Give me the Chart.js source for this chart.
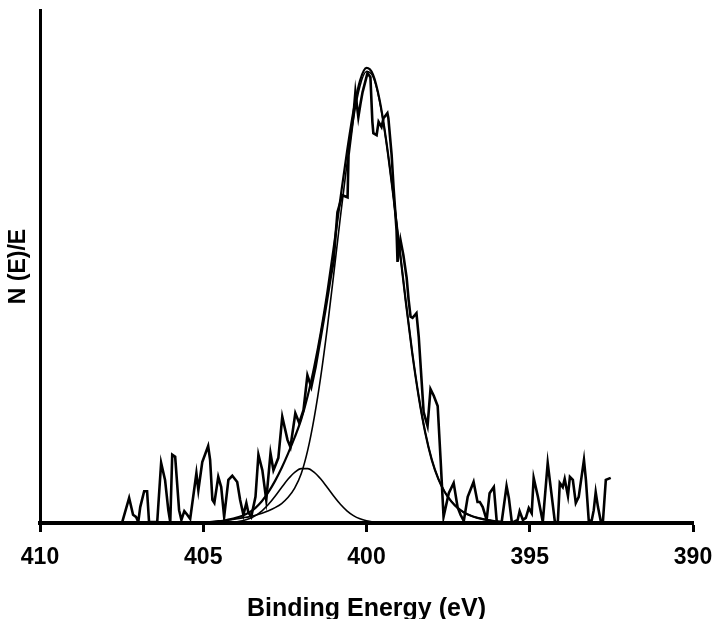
<!DOCTYPE html>
<html>
<head>
<meta charset="utf-8">
<script src="https://cdn.jsdelivr.net/npm/chart.js@4.4.0/dist/chart.umd.min.js"></script>
<style>
  html, body { margin: 0; padding: 0; background: #fff; }
  #wrap { width: 713px; height: 619px; position: relative; }
</style>
</head>
<body>
<div id="wrap"><canvas id="xps"></canvas></div>
<script>
// measured spectrum (binding energy in eV, intensity in arbitrary units)
const noiseEnergy = [
  407.48, 407.27, 407.15, 407.06, 406.99, 406.93, 406.81, 406.72, 406.66, 406.41,
  406.29, 406.17, 406.07, 406.01, 405.95, 405.86, 405.74, 405.67, 405.58, 405.49,
  405.40, 405.21, 405.15, 405.03, 404.85, 404.79, 404.72, 404.66, 404.54, 404.45,
  404.36, 404.23, 404.11, 403.96, 403.87, 403.77, 403.68, 403.62, 403.53, 403.40,
  403.31, 403.19, 403.07, 402.94, 402.85, 402.70, 402.58, 402.42, 402.33, 402.18,
  402.06, 401.93, 401.81, 401.69, 401.56, 401.35, 401.26, 401.10, 401.01, 400.89,
  400.74, 400.58, 400.55, 400.40, 400.34, 400.25, 400.18, 400.12, 399.97, 399.88,
  399.82, 399.79, 399.69, 399.63, 399.54, 399.48, 399.36, 399.33, 399.23, 399.17,
  399.08, 399.05, 398.96, 398.87, 398.77, 398.71, 398.65, 398.59, 398.47, 398.40,
  398.25, 398.13, 398.04, 397.94, 397.82, 397.73, 397.64, 397.48, 397.33, 397.21,
  397.12, 397.02, 396.90, 396.72, 396.60, 396.53, 396.44, 396.32, 396.23, 396.10,
  396.01, 395.86, 395.71, 395.64, 395.55, 395.49, 395.37, 395.31, 395.21, 395.12,
  395.03, 394.94, 394.88, 394.75, 394.60, 394.45, 394.36, 394.23, 394.14, 394.08,
  393.99, 393.93, 393.83, 393.77, 393.68, 393.59, 393.50, 393.34, 393.28, 393.19,
  393.10, 393.04, 392.98, 392.91, 392.82, 392.76, 392.67, 392.52
];
const noiseCounts = [
  0.2, 4.9, 1.6, 1.2, 0.2, 3.1, 6.2, 6.2, 0.2, 0.2,
  11.7, 8.4, 2.5, 0.2, 13.3, 12.9, 2.5, 0.6, 2.3, 1.6,
  0.8, 9.7, 6.4, 11.9, 15.0, 12.3, 4.5, 3.9, 9.0, 7.0,
  1.2, 8.4, 9.2, 8.0, 4.5, 1.6, 3.9, 2.1, 1.2, 5.1,
  13.3, 10.3, 4.5, 13.6, 10.3, 12.7, 20.7, 16.2, 14.8, 21.4,
  19.5, 22.0, 28.8, 26.5, 30.4, 38.2, 41.5, 47.8, 50.9, 60.6,
  63.9, 63.5, 71.7, 79.5, 84.0, 79.1, 81.9, 84.0, 87.7, 86.9,
  78.2, 76.0, 75.6, 78.2, 77.2, 78.9, 79.9, 78.9, 71.7, 65.3,
  57.1, 50.9, 55.2, 52.2, 47.8, 43.5, 40.2, 40.0, 40.9, 36.3,
  21.6, 18.9, 26.1, 24.8, 22.8, 12.3, 1.2, 5.8, 7.8, 3.1,
  1.6, 0.4, 5.1, 8.0, 4.1, 4.1, 3.1, 0.6, 5.8, 7.0,
  0.2, 0.2, 7.2, 4.9, 0.2, 0.2, 0.6, 2.3, 0.6, 1.0,
  2.9, 1.9, 8.8, 5.1, 0.2, 11.7, 7.0, 0.2, 0.2, 7.8,
  7.0, 8.6, 5.3, 9.0, 8.4, 3.9, 5.1, 12.3, 8.4, 0.2,
  0.6, 2.5, 6.0, 3.1, 0.2, 0.2, 8.4, 8.8
];

// fitted components, sampled every 0.2 eV
const fitEnergy = [
  405.0, 404.8, 404.6, 404.4, 404.2, 404.0, 403.8, 403.6, 403.4, 403.2,
  403.0, 402.8, 402.6, 402.4, 402.2, 402.0, 401.8, 401.6, 401.4, 401.2,
  401.0, 400.8, 400.6, 400.4, 400.2, 400.0, 399.8, 399.6, 399.4, 399.2,
  399.0, 398.8, 398.6, 398.4, 398.2, 398.0, 397.8, 397.6, 397.4, 397.2,
  397.0, 396.8, 396.6, 396.4, 396.2, 396.0, 395.8, 395.6, 395.4, 395.2, 395.0
];
const mainFit = [
  0.1, 0.2, 0.3, 0.4, 0.6, 0.8, 1.0, 1.2, 1.5, 1.9,
  2.4, 3.0, 3.8, 5.0, 6.8, 9.6, 14.2, 20.6, 28.6, 38.1,
  48.7, 59.6, 69.9, 78.8, 85.2, 88.0, 87.0, 82.3, 74.6, 64.9,
  54.2, 43.3, 33.2, 24.6, 17.6, 12.3, 8.6, 6.0, 4.2, 2.9,
  2.0, 1.4, 1.0, 0.7, 0.5, 0.3, 0.2, 0.1, 0.05, 0, 0
];
const minorFit = [
  0, 0, 0.02, 0.04, 0.1, 0.21, 0.43, 0.82, 1.45, 2.38,
  3.65, 5.21, 6.92, 8.57, 9.88, 10.6, 10.6, 9.88, 8.57, 6.92,
  5.21, 3.65, 2.38, 1.45, 0.82, 0.43, 0.21, 0.1, 0.04, 0.02,
  0, 0, 0, 0, 0, 0, 0, 0, 0, 0,
  0, 0, 0, 0, 0, 0, 0, 0, 0, 0, 0
];
const envelopeFit = [
  0.1, 0.2, 0.32, 0.44, 0.7, 1.01, 1.43, 2.02, 2.95, 4.28,
  6.05, 8.21, 10.72, 13.57, 16.68, 20.2, 24.8, 30.48, 37.17, 45.02,
  53.91, 63.25, 72.28, 80.25, 86.2, 88.7, 87.4, 82.5, 74.7, 64.92,
  54.2, 43.3, 33.2, 24.6, 17.6, 12.3, 8.6, 6.0, 4.2, 2.9,
  2.0, 1.4, 1.0, 0.7, 0.5, 0.3, 0.2, 0.1, 0.05, 0, 0
];

const xTicks = [410, 405, 400, 395, 390];

const pairs = (xs, ys) => xs.map((x, i) => ({ x: x, y: ys[i] }));
const tickFont = { family: 'Arial, "Liberation Sans", sans-serif', weight: 'bold', size: 23 };
const titleFont = { family: 'Arial, "Liberation Sans", sans-serif', weight: 'bold', size: 25 };

const curve = (data, width) => ({
  data: data,
  showLine: true,
  borderColor: '#000',
  borderWidth: width,
  pointRadius: 0,
  cubicInterpolationMode: 'monotone',
  fill: false
});

new Chart(document.getElementById('xps'), {
  type: 'scatter',
  data: {
    datasets: [
      { data: pairs(noiseEnergy, noiseCounts), showLine: true, borderColor: '#000', borderWidth: 2.6,
        pointRadius: 0, tension: 0, fill: false },
      curve(pairs(fitEnergy, minorFit), 1.6),
      curve(pairs(fitEnergy, mainFit), 1.6),
      curve(pairs(fitEnergy, envelopeFit), 2.2)
    ]
  },
  options: {
    responsive: true,
    maintainAspectRatio: false,
    animation: false,
    layout: { padding: { top: 10, right: 0, left: 0, bottom: 0 } },
    plugins: { legend: { display: false }, tooltip: { enabled: false } },
    scales: {
      x: {
        type: 'linear',
        reverse: true,
        min: 390,
        max: 410,
        afterBuildTicks: (scale) => { scale.ticks = xTicks.map(v => ({ value: v })); },
        afterFit: (scale) => {
          scale.height = 96;
          scale.paddingLeft = 0;
          scale.paddingRight = 20;
        },
        ticks: { color: '#000', font: tickFont, padding: 12, maxRotation: 0, autoSkip: false },
        grid: { display: true, drawOnChartArea: false, drawTicks: true, tickLength: 9, tickWidth: 3, tickColor: '#000' },
        border: { display: true, color: '#000', width: 4 },
        title: { display: true, text: 'Binding Energy (eV)', color: '#000', font: titleFont, padding: { top: 0, bottom: -5 } }
      },
      y: {
        min: 0,
        max: 100,
        afterFit: (scale) => { scale.width = 40; },
        ticks: { display: false },
        grid: { display: false },
        border: { display: true, color: '#000', width: 3 },
        title: { display: true, text: 'N (E)/E', color: '#000', font: tickFont, padding: { top: 5, bottom: 0 } }
      }
    }
  }
});
</script>
</body>
</html>
